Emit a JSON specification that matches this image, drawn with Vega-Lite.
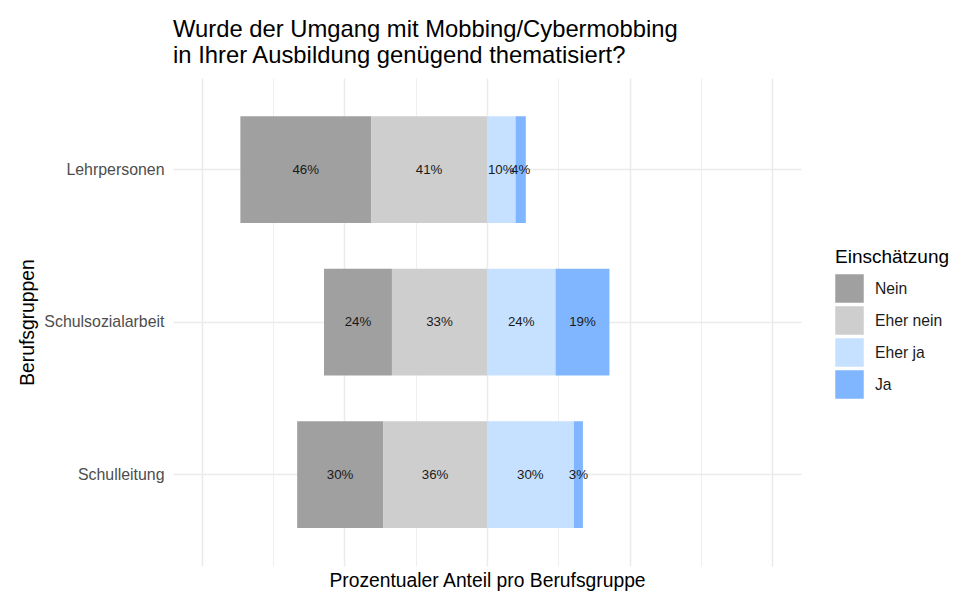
{
  "$schema": "https://vega.github.io/schema/vega-lite/v6.json",
  "width": 628,
  "height": 488,
  "autosize": "none",
  "padding": {"left": 173, "top": 78, "right": 159, "bottom": 43},
  "background": "white",
  "config": {
    "font": "Liberation Sans",
    "view": {"stroke": null}
  },
  "title": {
    "text": ["Wurde der Umgang mit Mobbing/Cybermobbing", "in Ihrer Ausbildung genügend thematisiert?"],
    "fontSize": 23.8,
    "fontWeight": "normal",
    "color": "#000000",
    "anchor": "start",
    "frame": "group",
    "lineHeight": 26,
    "offset": 10
  },
  "data": {
    "values": [
      {"group": "Lehrpersonen", "answer": "Nein", "pct": 45.8},
      {"group": "Lehrpersonen", "answer": "Eher nein", "pct": 40.6},
      {"group": "Lehrpersonen", "answer": "Eher ja", "pct": 10.0},
      {"group": "Lehrpersonen", "answer": "Ja", "pct": 3.6},
      {"group": "Schulsozialarbeit", "answer": "Nein", "pct": 23.8},
      {"group": "Schulsozialarbeit", "answer": "Eher nein", "pct": 33.3},
      {"group": "Schulsozialarbeit", "answer": "Eher ja", "pct": 24.0},
      {"group": "Schulsozialarbeit", "answer": "Ja", "pct": 18.9},
      {"group": "Schulleitung", "answer": "Nein", "pct": 30.1},
      {"group": "Schulleitung", "answer": "Eher nein", "pct": 36.4},
      {"group": "Schulleitung", "answer": "Eher ja", "pct": 30.4},
      {"group": "Schulleitung", "answer": "Ja", "pct": 3.2}
    ]
  },
  "transform": [
    {"calculate": "indexof(['Nein','Eher nein','Eher ja','Ja'], datum.answer)", "as": "idx"},
    {"calculate": "datum.idx < 2 ? -datum.pct : datum.pct", "as": "signed"},
    {"calculate": "(datum.idx == 1 || datum.idx == 2) ? 0 : 1", "as": "rank"},
    {"stack": "signed", "groupby": ["group"], "offset": "zero", "sort": [{"field": "rank", "order": "ascending"}], "as": ["x0", "x1"]},
    {"calculate": "(datum.x0 + datum.x1) / 2", "as": "mid"},
    {"calculate": "format(datum.pct, '.0f') + '%'", "as": "label"}
  ],
  "encoding": {
    "y": {
      "field": "group",
      "type": "nominal",
      "sort": ["Lehrpersonen", "Schulsozialarbeit", "Schulleitung"],
      "scale": {"paddingInner": 0.3, "paddingOuter": 0.25},
      "axis": {
        "title": "Berufsgruppen",
        "titleFontSize": 19.3,
        "titleFontWeight": "normal",
        "titleColor": "#000000",
        "titlePadding": 6,
        "labelFontSize": 15.9,
        "labelColor": "#4D4D4D",
        "labelPadding": 9,
        "ticks": false,
        "domain": false,
        "grid": true,
        "gridColor": "#EBEBEB",
        "gridWidth": 1.5,
        "bandPosition": 0.5
      }
    }
  },
  "layer": [
    {
      "mark": {"type": "bar"},
      "encoding": {
        "x": {
          "field": "x0",
          "type": "quantitative",
          "scale": {"domain": [-110, 110], "nice": false, "zero": false},
          "axis": {
            "title": "Prozentualer Anteil pro Berufsgruppe",
            "titleFontSize": 19.3,
            "titleFontWeight": "normal",
            "titleColor": "#000000",
            "titlePadding": 5,
            "labels": false,
            "ticks": false,
            "domain": false,
            "grid": true,
            "values": [-100, -75, -50, -25, 0, 25, 50, 75, 100],
            "gridColor": "#EBEBEB",
            "gridWidth": {"condition": {"test": "datum.value % 50 === 0", "value": 1.5}, "value": 0.8}
          }
        },
        "x2": {"field": "x1"},
        "color": {
          "field": "answer",
          "type": "nominal",
          "scale": {
            "domain": ["Nein", "Eher nein", "Eher ja", "Ja"],
            "range": ["#A0A0A0", "#CECECE", "#C6E1FF", "#80B6FF"]
          },
          "legend": {
            "title": "Einschätzung",
            "titleFontSize": 19,
            "titleFontWeight": "normal",
            "titleColor": "#000000",
            "titlePadding": 7,
            "labelFontSize": 15.7,
            "labelColor": "#1A1A1A",
            "symbolType": "square",
            "symbolSize": 812,
            "symbolStrokeWidth": 0,
            "symbolOpacity": 1,
            "rowPadding": 3,
            "labelOffset": 11,
            "orient": "none",
            "legendX": 662,
            "legendY": 170
          }
        }
      }
    },
    {
      "mark": {"type": "text", "fontSize": 13.3, "color": "#1A1A1A"},
      "encoding": {
        "x": {"field": "mid", "type": "quantitative"},
        "text": {"field": "label"}
      }
    }
  ]
}
